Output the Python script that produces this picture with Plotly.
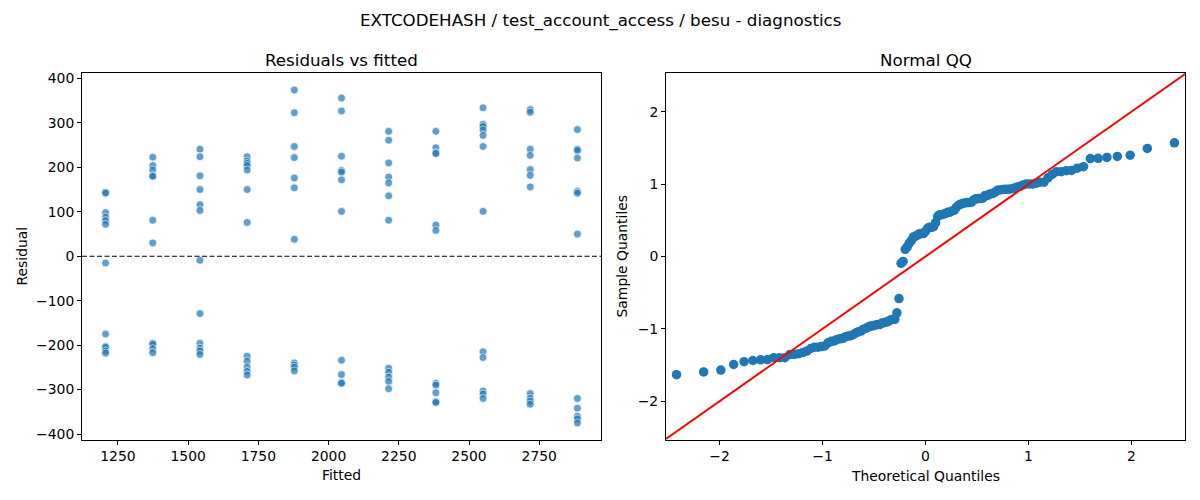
import statistics
import plotly.graph_objects as go

# residual diagnostics for EXTCODEHASH / test_account_access / besu

fitted_levels = [1206, 1374, 1542, 1710, 1878, 2046, 2214, 2382, 2550, 2718, 2886]

residuals_by_level = [
    [144, 142, 98, 88, 80, 72, -15, -175, -203, -205, -213, -218],
    [223, 204, 194, 181, 180, 81, 30, -196, -198, -208, -217],
    [241, 224, 181, 150, 116, 103, -9, -129, -196, -207, -213, -221],
    [224, 214, 209, 204, 194, 150, 76, -225, -236, -249, -259, -267],
    [374, 323, 247, 222, 176, 154, 38, -240, -245, -250, -258],
    [356, 327, 225, 193, 189, 172, 101, -234, -266, -284, -286],
    [281, 261, 210, 178, 165, 136, 81, -252, -261, -272, -282, -298],
    [281, 244, 233, 231, 70, 58, -286, -290, -307, -327, -329],
    [334, 297, 292, 284, 272, 247, 101, -215, -228, -303, -310, -320],
    [330, 324, 241, 227, 195, 182, 156, -309, -320, -326, -333],
    [285, 241, 238, 221, 146, 142, 50, -320, -342, -360, -366, -375],
]

title = "EXTCODEHASH / test_account_access / besu - diagnostics"

fitted = []
resid = []
for f, rs in zip(fitted_levels, residuals_by_level):
    for r in rs:
        fitted.append(f)
        resid.append(r)

# normal QQ: standardized residuals vs normal quantiles (positions i/(n+1))
n = len(resid)
mu = sum(resid) / n
sd = (sum((r - mu) ** 2 for r in resid) / n) ** 0.5
sample_q = sorted((r - mu) / sd for r in resid)
nd = statistics.NormalDist()
theo_q = [nd.inv_cdf(i / (n + 1)) for i in range(1, n + 1)]

FONT = "DejaVu Sans"
BLUE = "#1f77b4"

# page body has an 8px margin, so the figure sits at (8, 8)
OFF = 8
W, H = 1200 - OFF, 500 - OFF


def px(x):
    return (x - OFF) / W


def py(y):
    return 1 - (y - OFF) / H


fig = go.Figure()

fig.add_trace(go.Scatter(
    x=fitted, y=resid, mode="markers", xaxis="x", yaxis="y",
    marker=dict(size=8, color=BLUE, opacity=0.7, line=dict(color="white", width=0.8)),
    showlegend=False,
))

fig.add_trace(go.Scatter(
    x=theo_q, y=sample_q, mode="markers", xaxis="x2", yaxis="y2",
    marker=dict(size=9.5, color=BLUE),
    showlegend=False,
))

fig.add_trace(go.Scatter(
    x=[-3, 3], y=[-3, 3], mode="lines", xaxis="x2", yaxis="y2",
    line=dict(color="red", width=2), hoverinfo="skip", showlegend=False,
))

axis_style = dict(
    showgrid=False, zeroline=False, showline=True, linecolor="black", linewidth=1,
    mirror=True, ticks="outside", ticklen=4, tickcolor="black",
    tickfont=dict(family=FONT, size=13.9, color="black"),
)

fig.update_layout(
    width=W, height=H,
    margin=dict(l=0, r=0, t=0, b=0),
    paper_bgcolor="white", plot_bgcolor="white",
    font=dict(family=FONT, color="black"),
    xaxis=dict(domain=[px(82), px(601)], range=[1122, 2970],
               tickvals=[1250, 1500, 1750, 2000, 2250, 2500, 2750], anchor="y", **axis_style),
    yaxis=dict(domain=[py(441), py(71)], range=[-412.5, 411.5],
               tickvals=[-400, -300, -200, -100, 0, 100, 200, 300, 400], anchor="x", **axis_style),
    xaxis2=dict(domain=[px(666), px(1185)], range=[-2.52, 2.52],
                tickvals=[-2, -1, 0, 1, 2], anchor="y2", **axis_style),
    yaxis2=dict(domain=[py(441), py(71)], range=[-2.53, 2.53],
                tickvals=[-2, -1, 0, 1, 2], anchor="x2", **axis_style),
    shapes=[dict(type="line", xref="x domain", yref="y", x0=0, x1=1, y0=0, y1=0,
                 line=dict(color="black", width=1.2, dash="5px,2.5px"))],
)

ann = [
    (600, 18, title, 16.7, 0),
    (341.5, 57, "Residuals vs fitted", 16.7, 0),
    (925.5, 57, "Normal QQ", 16.7, 0),
    (341.5, 477, "Fitted", 13.9, 0),
    (925.5, 478, "Theoretical Quantiles", 13.9, 0),
    (22, 256, "Residual", 13.9, -90),
    (622, 256, "Sample Quantiles", 13.9, -90),
]
for x, y, text, size, angle in ann:
    fig.add_annotation(x=px(x), y=py(y), xref="paper", yref="paper",
                       text=text, showarrow=False, textangle=angle,
                       xanchor="center", yanchor="middle",
                       font=dict(family=FONT, size=size, color="black"))

fig.write_html("out.html")
